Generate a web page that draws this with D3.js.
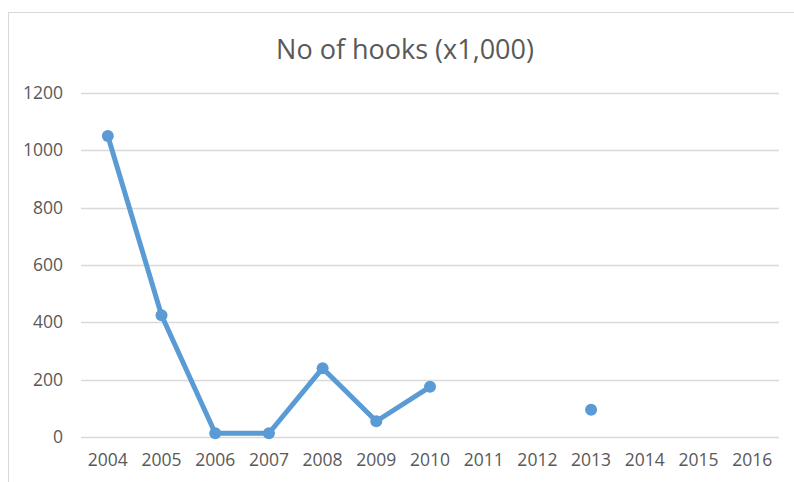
<!DOCTYPE html>
<html>
<head>
<meta charset="utf-8">
<script src="https://cdn.jsdelivr.net/npm/d3@7"></script>
<style>
  body { margin: 0; background: #fff; }
  text { font-family: "Open Sans", sans-serif; fill: #595959; }
</style>
</head>
<body>
<div id="chart"></div>
<script>
// ---------------------- data ----------------------
var years = ["2004", "2005", "2006", "2007", "2008", "2009", "2010",
             "2011", "2012", "2013", "2014", "2015", "2016"];
var hooks = [1050, 425, 13, 13, 240, 55, 175, null, null, 95, null, null, null];
var yTicks = [0, 200, 400, 600, 800, 1000, 1200];

var series = years.map(function (y, i) { return { year: y, value: hooks[i] }; });

// ---------------------- chart ----------------------
var svg = d3.select("#chart")
     .append("svg")
     .attr("width", 794)
     .attr("height", 482);

// chart area border (cropped at right and bottom)
svg.append("rect")
     .attr("x", 8.5)
     .attr("y", 12.5)
     .attr("width", 800)
     .attr("height", 500)
     .attr("fill", "none")
     .attr("stroke", "#d9d9d9");

var x = d3.scaleBand().domain(years).range([81, 779]);
var y = d3.scaleLinear().domain([0, 1200]).range([437, 93]);

// gridlines
svg.append("g")
     .selectAll("line")
     .data(yTicks)
     .enter()
     .append("line")
     .attr("x1", 81)
     .attr("x2", 779)
     .attr("y1", function (d) { return Math.round(y(d)) + 0.5; })
     .attr("y2", function (d) { return Math.round(y(d)) + 0.5; })
     .attr("stroke", "#d9d9d9")
     .attr("stroke-width", 1.3);

// y axis labels
var yAxis = d3.axisLeft(y).tickValues(yTicks).tickFormat(d3.format("d")).tickSize(0).tickPadding(18);
svg.append("g")
     .attr("transform", "translate(81,0)")
     .call(yAxis)
     .call(function (g) { g.select(".domain").remove(); })
     .selectAll("text")
     .style("font-size", "17.5px")
     .style("font-family", "'Open Sans', sans-serif")
     .attr("fill", "#595959");

// x axis labels
var xAxis = d3.axisBottom(x).tickSize(0).tickPadding(17);
svg.append("g")
     .attr("transform", "translate(0,437)")
     .call(xAxis)
     .call(function (g) { g.select(".domain").remove(); })
     .selectAll("text")
     .style("font-size", "17.5px")
     .style("font-family", "'Open Sans', sans-serif")
     .attr("fill", "#595959");

// line with gaps
var line = d3.line()
     .defined(function (d) { return d.value !== null; })
     .x(function (d) { return x(d.year) + x.bandwidth() / 2; })
     .y(function (d) { return y(d.value); });

svg.append("path")
     .datum(series)
     .attr("d", line)
     .attr("fill", "none")
     .attr("stroke", "#5b9bd5")
     .attr("stroke-width", 5)
     .attr("stroke-linejoin", "round");

svg.append("g")
     .selectAll("circle")
     .data(series.filter(function (d) { return d.value !== null; }))
     .enter()
     .append("circle")
     .attr("cx", function (d) { return x(d.year) + x.bandwidth() / 2; })
     .attr("cy", function (d) { return y(d.value); })
     .attr("r", 6)
     .attr("fill", "#5b9bd5");

// title
svg.append("text")
     .text("No of hooks (x1,000)")
     .attr("x", 405)
     .attr("y", 59)
     .attr("text-anchor", "middle")
     .style("font-size", "27px");
</script>
</body>
</html>
